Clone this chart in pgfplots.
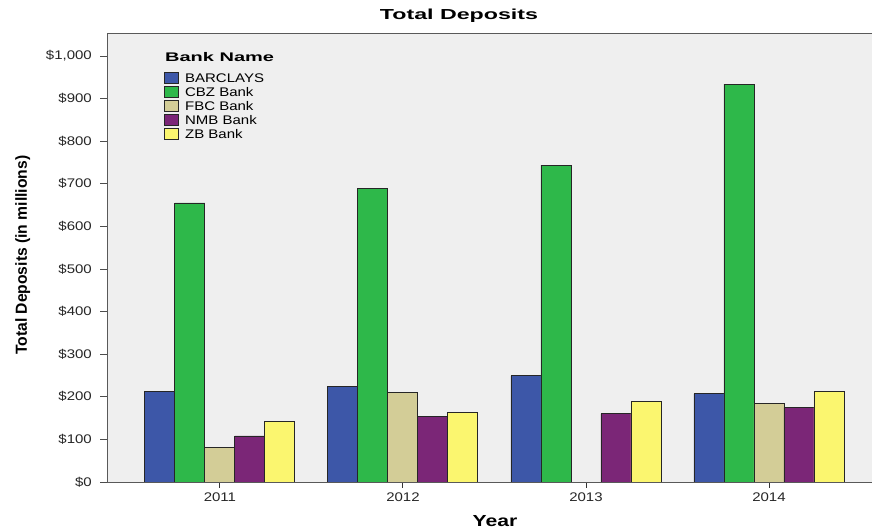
\documentclass[border=0pt]{standalone}
\usepackage{fontspec}
\setmainfont{Liberation Sans}
\newfontfamily\tickfont[FakeStretch=1.2]{Liberation Sans}
\newfontfamily\titlefont[FakeStretch=1.6]{Liberation Sans}
\newfontfamily\xlabfont[FakeStretch=1.32]{Liberation Sans}
\newfontfamily\ylabfont[FakeStretch=0.98]{Liberation Sans}
\usepackage{pgfplots}
\pgfplotsset{compat=1.18}
\definecolor{cBar}{RGB}{61,87,168}
\definecolor{cCbz}{RGB}{46,184,74}
\definecolor{cFbc}{RGB}{211,205,151}
\definecolor{cNmb}{RGB}{123,38,119}
\definecolor{cZb}{RGB}{251,246,111}
\definecolor{bgc}{RGB}{239,239,239}
\pgfplotsset{mylegend/.style={legend image code/.code={\draw[##1,line width=0.9pt] (0pt,-1pt) rectangle (14pt,10pt);}}}
\begin{document}
\begin{tikzpicture}
\begin{axis}[
  at={(107pt,47pt)}, anchor=south west,
  scale only axis, width=776pt, height=449pt,
  ybar=0pt, bar width=30pt,
  xmin=-0.617, xmax=3.623, ymin=0, ymax=1054,
  xtick={0,1,2,3}, xticklabels={2011,2012,2013,2014},
  ytick={0,100,...,1000},
  yticklabels={\$0,\$100,\$200,\$300,\$400,\$500,\$600,\$700,\$800,\$900,{\$1,000}},
  tick align=outside, major tick length=7pt,
  xtick style={black!80, line width=0.9pt},
  ytick style={black!70, line width=0.8pt},
  x tick style={/pgfplots/major tick length=6pt},
  tick pos=left,
  tick label style={font=\tickfont\fontsize{12.5}{14}\selectfont, text=black!85},
  yticklabel style={anchor=east, inner sep=0pt, xshift=-8pt},
  xticklabel style={anchor=base, inner sep=0pt, yshift=-12.5pt},
  axis background/.style={fill=bgc},
  axis line style={black!65, line width=0.9pt},
  every axis plot/.append style={draw=black!85, line width=0.9pt, mylegend},
  title={\titlefont\bfseries\fontsize{14.5}{16}\selectfont Total Deposits},
  title style={at={(axis description cs:0.4536,1.0156)}, anchor=base, inner sep=0pt},
  xlabel={\xlabfont\bfseries\fontsize{16}{18}\selectfont Year},
  xlabel style={at={(axis description cs:0.5,-0.098)}, anchor=base, inner sep=0pt},
  ylabel={\ylabfont\bfseries\fontsize{16}{18}\selectfont Total Deposits (in millions)},
  ylabel style={at={(axis description cs:-0.1031,0.505)}, anchor=base, rotate=0, inner sep=0pt},
  legend style={at={(axis description cs:0.0735,0.9131)}, anchor=north west,
    draw=none, fill=none, inner sep=0pt, row sep=0.6pt, column sep=6pt,
    font=\tickfont\fontsize{12.5}{14}\selectfont,
    nodes={inner sep=0pt, text height=9pt, text depth=3pt, anchor=base west}},
  legend cell align=left,
]
\addplot[fill=cBar] coordinates {(0,213) (1,225) (2,249) (3,207)};
\addplot[fill=cCbz] coordinates {(0,655) (1,690) (2,744) (3,934)};
\addplot[fill=cFbc] coordinates {(0,80) (1,210) (3,185)};
\addplot[fill=cNmb] coordinates {(0,108) (1,154) (2,160) (3,175)};
\addplot[fill=cZb] coordinates {(0,143) (1,164) (2,188) (3,212)};
\legend{BARCLAYS,CBZ Bank,FBC Bank,NMB Bank,ZB Bank}
\node[anchor=base west, inner sep=0pt, font=\titlefont\bfseries\fontsize{12.5}{14}\selectfont]
  at (axis description cs:0.0747,0.9376) {Bank Name};
\end{axis}
\pgfresetboundingbox
\useasboundingbox (0pt,0pt) rectangle (872pt,529pt);
\end{tikzpicture}
\end{document}
